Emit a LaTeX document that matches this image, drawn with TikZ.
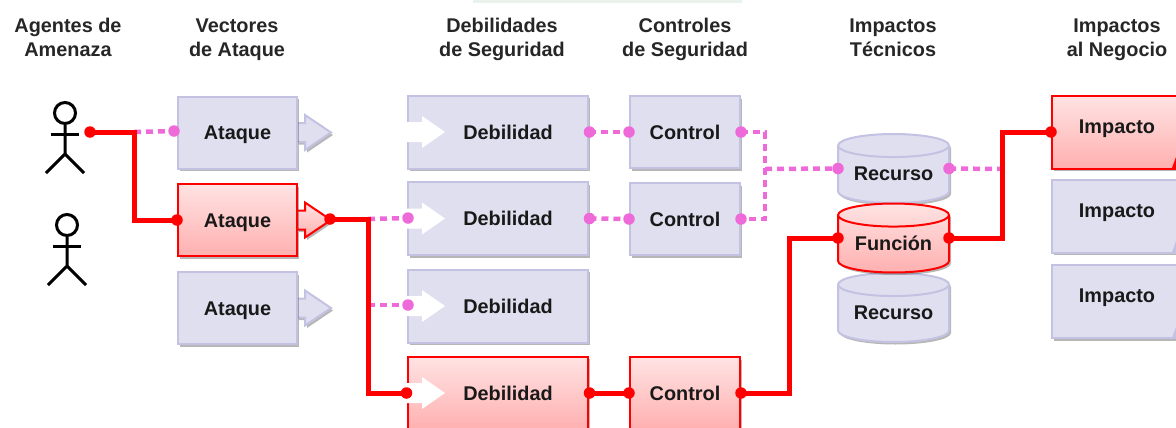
\documentclass[tikz,border=0pt]{standalone}
\usepackage{fontspec}
\setmainfont{Liberation Sans}
\usepackage{tikz}
\usetikzlibrary{arrows.meta}
\usetikzlibrary{shapes.geometric}
\usetikzlibrary{shadows}

\definecolor{lilac}{HTML}{DFDFF0}
\definecolor{lilacline}{HTML}{C4C2E2}
\definecolor{pinkline}{HTML}{EE6AD8}

\begin{document}
\begin{tikzpicture}[x=0.02cm,y=-0.02cm]
  \tikzset{softshadow/.style = {drop shadow={shadow xshift=0.04cm,shadow yshift=-0.05cm,opacity=.4,fill=black!70}}}
  \tikzset{calm/.style = {draw=lilacline,line width=0.04cm,fill=lilac,softshadow}}
  \tikzset{hit/.style = {draw=red,line width=0.04cm,top color=red!11,bottom color=red!31,softshadow}}
  \tikzset{head/.style = {font=\bfseries\fontsize{11.3}{13.9}\selectfont,text=black!85,align=center,inner sep=0pt,text height=22pt,text depth=0pt}}
  \tikzset{txt/.style = {font=\bfseries\fontsize{11.3}{13.9}\selectfont,text=black!90,inner sep=0pt,text height=8.1pt,text depth=0pt}}
  \tikzset{atk/.style = {txt,minimum width=2.38cm,minimum height=1.44cm}}
  \tikzset{weak/.style = {minimum width=3.62cm,minimum height=1.46cm}}
  \tikzset{ctrl/.style = {txt,minimum width=2.2cm,minimum height=1.44cm}}
  \tikzset{res/.style = {txt,shape=cylinder,shape border rotate=90,shape aspect=0.29,minimum width=2.22cm,minimum height=1.38cm,anchor=shape center}}
  \tikzset{imp/.style = {minimum width=2.6cm,minimum height=1.46cm}}
  \tikzset{redline/.style = {draw=red,line width=0.1cm,preaction={draw=black,opacity=.18,transform canvas={shift={(0.04cm,-0.05cm)}}}}}
  \tikzset{pinkdots/.style = {draw=pinkline,line width=0.09cm,dash pattern=on 0.14cm off 0.1cm}}
  \tikzset{actor/.style = {draw=black,line width=0.06cm}}

  \useasboundingbox (0,0) rectangle (1176,427);
  \clip (0,0) rectangle (1176,427);
  \fill[green!30!black!8] (473,0) rectangle (742,3);

  \node[head] (hA) at (68,37.5) {Agentes de\\Amenaza};
  \node[head] (hV) at (237,37.5) {Vectores\\de Ataque};
  \node[head] (hD) at (502,37.5) {Debilidades\\de Seguridad};
  \node[head] (hC) at (685,37.5) {Controles\\de Seguridad};
  \node[head] (hT) at (893,37.5) {Impactos\\Técnicos};
  \node[head] (hN) at (1117,37.5) {Impactos\\al Negocio};

  % actors
  \foreach \n/\x/\y in {s1/65/113, s2/67/225} {
    \node[actor,shape=circle,minimum size=0.42cm,inner sep=0pt] (\n) at (\x,\y) {};
    \draw[actor] (\n.south) -- ++(0,29) coordinate (\n h) -- ++(-19,19);
    \draw[actor] (\n h) -- ++(19,19);
    \draw[actor] ([shift={(-14,21)}]\n.center) -- ++(28,0);
  }

  % attacks
  \foreach \n/\y/\s in {a1/132.5/calm, a3/308/calm, a2/220/hit} {
    \draw[\s] (297,\y-9.5) -- (305,\y-9.5) -- (305,\y-17.5) -- (331,\y) -- (305,\y+17.5) -- (305,\y+9.5) -- (297,\y+9.5) -- cycle;
    \node[atk,\s] (\n) at (237.5,\y) {Ataque};
  }
  \coordinate (a2t) at (330,219);

  % weaknesses
  \foreach \n/\y/\s in {d1/132/calm, d2/218.5/calm, d3/306/calm, d4/393/hit} {
    \node[weak,\s] (\n) at (498,\y) {};
    \fill[white] (407,\y-10) -- (422,\y-10) -- (422,\y-16) -- (445,\y) -- (422,\y+16) -- (422,\y+10) -- (407,\y+10) -- cycle;
    \node[txt] (\n t) at (508,\y) {Debilidad};
  }

  % controls
  \node[ctrl,calm] (c1) at (685,132) {Control};
  \node[ctrl,calm] (c2) at (685,219) {Control};
  \node[ctrl,hit] (c3) at (685,393) {Control};

  % assets
  \foreach \n/\y/\s/\t in {r1/168.5/calm/Recurso, r3/307.5/calm/Recurso, fn/238/hit/Función} {
    \node[res,\s] (\n) at (893.5,\y) {\phantom{Recurso}};
    \node[txt] (\n t) at (893.5,\y+5) {\t};
    \coordinate (\n w) at (838,\y);
    \coordinate (\n e) at (949,\y);
  }

  % business impacts
  \foreach \n/\y/\s in {i1/132/hit, i2/216/calm, i3/301.5/calm} {
    \node[imp,\s] (\n) at (1117,\y) {};
    \node[txt] (\n t) at (1117,\y-6) {Impacto};
  }
  \foreach \y/\c in {168/red, 252/lilacline, 338/lilacline}
    \fill[\c] (1176,\y-11) -- (1176,\y) -- (1172,\y) -- cycle;

  % connectors
  \coordinate (s1o) at (90,132);
  \coordinate (a1i) at (174,131);
  \coordinate (j1) at (134,132);
  \coordinate (j2) at (368,219);
  \coordinate (j3) at (765,169);
  \coordinate (j4) at (789,300);
  \coordinate (j5) at (1002,180);
  \coordinate (j6) at (1002,169);
  \coordinate (d2i) at (408,218);
  \coordinate (d3i) at (408,305);

  \draw[pinkdots] (j1) -- (a1i);
  \draw[pinkdots] (j2) -- (d2i);
  \draw[pinkdots] (j2 |- d3i) -- (d3i);
  \draw[pinkdots] (d1.east) -- (c1.west);
  \draw[pinkdots] (d2.east) -- (c2.west);
  \draw[pinkdots] (c1.east) -| (j3) |- (c2.east);
  \draw[pinkdots] (j3) -- (r1w);
  \draw[pinkdots] (r1e) -- (j6);

  \draw[redline] (s1o) -- (j1) |- (a2.west);
  \draw[redline] (a2t) -- (j2) |- (d4.west);
  \draw[redline] (d4.east) -- (c3.west);
  \draw[redline] (c3.east) -| (j4) |- (fnw);
  \draw[redline] (fne) -| (j5) |- (i1.west);

  \foreach \p in {a1i, d2i, d3i, d1.east, c1.west, d2.east, c2.west, c1.east, c2.east, r1w, r1e}
    \fill[pinkline] (\p) circle (0.115cm);
  \foreach \p in {s1o, a2.west, a2t, d4.west, d4.east, c3.west, c3.east, fnw, fne, i1.west}
    \fill[red] (\p) circle (0.115cm);
\end{tikzpicture}
\end{document}
